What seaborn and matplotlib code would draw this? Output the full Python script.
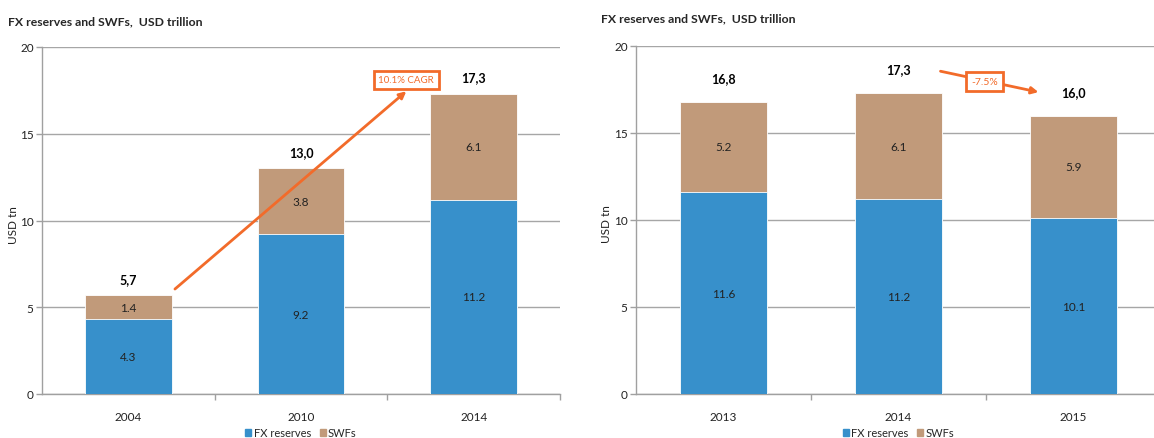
import matplotlib
matplotlib.use("Agg")
import matplotlib.pyplot as plt
import seaborn as sns
import pandas as pd
from matplotlib.patches import Patch

sns.set_theme(style="white")
plt.rcParams['font.family'] = ['Lato', 'DejaVu Sans']

# ---- data ----
left_years = ["2004", "2010", "2014"]
left_fx = [4.3, 9.2, 11.2]
left_swf = [1.4, 3.8, 6.1]
left_totals = ["5,7", "13,0", "17,3"]

right_years = ["2013", "2014", "2015"]
right_fx = [11.6, 11.2, 10.1]
right_swf = [5.2, 6.1, 5.9]
right_totals = ["16,8", "17,3", "16,0"]

title = "FX reserves and SWFs,  USD trillion"
ylabel = "USD tn"
left_note = "10.1% CAGR"
right_note = "-7.5%"

BLUE = "#3790CB"
BROWN = "#C19A7A"
ORANGE = "#F26B2A"
GRID = "#A6A6A6"

fig = plt.figure(figsize=(11.54, 4.39), dpi=100)
W, H = 1154, 439
ax1 = fig.add_axes([42 / W, 44 / H, 518 / W, 347 / H])
ax2 = fig.add_axes([636 / W, 44 / H, 525 / W, 348 / H])


def draw(ax, years, fx, swf, totals, off):
    df = pd.DataFrame({"year": years, "fx": fx, "swf": swf})
    df["total"] = df["fx"] + df["swf"]
    sns.barplot(data=df, x="year", y="total", color=BROWN, saturation=1,
                width=0.5, ax=ax, zorder=3)
    sns.barplot(data=df, x="year", y="fx", color=BLUE, saturation=1,
                width=0.5, ax=ax, zorder=3)
    for p in ax.patches:
        p.set_edgecolor("white")
        p.set_linewidth(0.6)
    for i in range(len(years)):
        ax.text(i, fx[i] / 2, f"{fx[i]:.1f}", ha="center", va="center",
                fontsize=8.5, color="#222222", zorder=5)
        ax.text(i, fx[i] + swf[i] / 2, f"{swf[i]:.1f}", ha="center",
                va="center", fontsize=8.5, color="#222222", zorder=5)
        ax.text(i, fx[i] + swf[i] + off, totals[i], ha="center",
                va="center", fontsize=9, fontweight="bold", color="black",
                zorder=5)
    ax.set_ylim(0, 20)
    ax.set_xlim(-0.5, 2.5)
    ax.set_yticks([0, 5, 10, 15, 20])
    ax.yaxis.grid(True, color=GRID, linewidth=1, zorder=0)
    ax.set_axisbelow(True)
    ax.set_xlabel("")
    ax.set_ylabel(ylabel, fontsize=8.5, color="#222222")
    ax.yaxis.set_label_coords(-0.045, 0.49)
    for s in ["top", "right"]:
        ax.spines[s].set_visible(False)
    for s in ["left", "bottom"]:
        ax.spines[s].set_color("#A0A0A0")
        ax.spines[s].set_linewidth(1)
    ax.tick_params(axis="y", length=4, width=1, color="#A0A0A0",
                   labelsize=8.5, pad=2, left=True, labelcolor="#222222")
    ax.tick_params(axis="x", length=0, labelsize=8.5, pad=12, bottom=True,
                   labelcolor="#222222")
    ax.set_xticks([0, 1, 2])
    ax.set_xticklabels(years)
    ax.set_xticks([0.5, 1.5, 2.5], minor=True)
    ax.tick_params(axis="x", which="minor", length=4, width=1,
                   color="#A0A0A0", bottom=True)
    handles = [Patch(color=BLUE, label="FX reserves"),
               Patch(color=BROWN, label="SWFs")]
    ax.legend(handles=handles, loc="center",
              bbox_to_anchor=(0.5, -0.112), ncol=2, frameon=False,
              fontsize=8, handlelength=0.55, handleheight=0.55,
              handletextpad=0.2, columnspacing=0.8, borderpad=0)


draw(ax1, left_years, left_fx, left_swf, left_totals, 0.95)
draw(ax2, right_years, right_fx, right_swf, right_totals, 1.35)

fig.text(8 / W, 1 - 22 / H, title, fontsize=8.8, fontweight="bold",
         ha="left", va="center")
fig.text(601 / W, 1 - 19 / H, title, fontsize=8.8, fontweight="bold",
         ha="left", va="center")

# left annotation: arrow from 2004 bar up to CAGR box
ax1.annotate("", xy=(1.61, 17.45), xytext=(0.27, 6.05),
             arrowprops=dict(arrowstyle="-|>", color=ORANGE, lw=2,
                             mutation_scale=10, shrinkA=0, shrinkB=0),
             zorder=6)
ax1.text(1.61, 18.1, left_note, ha="center", va="center", fontsize=7,
         color=ORANGE, zorder=7,
         bbox=dict(boxstyle="square,pad=0.5", fc="white", ec=ORANGE, lw=2))

# right annotation
ax2.annotate("", xy=(1.8, 17.35), xytext=(1.24, 18.55),
             arrowprops=dict(arrowstyle="-|>", color=ORANGE, lw=2,
                             mutation_scale=10, shrinkA=0, shrinkB=0),
             zorder=6)
ax2.text(1.49, 17.95, right_note, ha="center", va="center", fontsize=7.5,
         color=ORANGE, zorder=7,
         bbox=dict(boxstyle="square,pad=0.5", fc="white", ec=ORANGE, lw=2))

fig.savefig("out.png", dpi=100)
